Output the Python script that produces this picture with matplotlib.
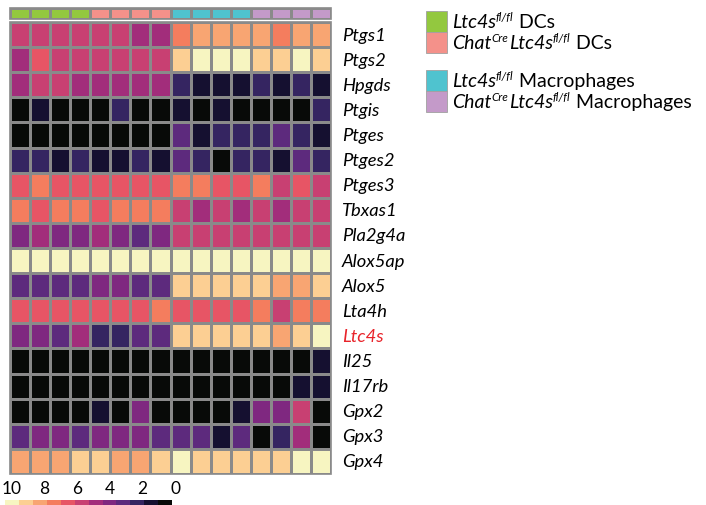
import numpy as np
import matplotlib
matplotlib.use("Agg")
import matplotlib.pyplot as plt
from matplotlib.colors import ListedColormap, BoundaryNorm
from matplotlib.patches import Rectangle

plt.rcParams['font.family'] = ['Lato', 'DejaVu Sans']

# genes (rows, top to bottom)
genes = ["Ptgs1", "Ptgs2", "Hpgds", "Ptgis", "Ptges", "Ptges2", "Ptges3", "Tbxas1",
         "Pla2g4a", "Alox5ap", "Alox5", "Lta4h", "Ltc4s", "Il25", "Il17rb",
         "Gpx2", "Gpx3", "Gpx4"]

# sample groups (4 samples each)
groups = ["Ltc4s fl/fl DCs", "ChatCre Ltc4s fl/fl DCs",
          "Ltc4s fl/fl Macrophages", "ChatCre Ltc4s fl/fl Macrophages"]
group_colors = ["#93c83f", "#f4918a", "#4fc3cf", "#c49ac9"]
samples_per_group = 4

# expression values (scale 0-10)
expr = np.array([
    [5.4, 5.4, 5.4, 5.4, 5.4, 5.4, 4.6, 4.6, 7.1, 7.9, 7.9, 7.9, 7.9, 7.1, 7.9, 7.9],
    [4.6, 6.2, 5.4, 5.4, 5.4, 5.4, 5.4, 5.4, 8.8, 9.6, 9.6, 9.6, 8.8, 8.8, 9.6, 8.8],
    [4.6, 5.4, 5.4, 4.6, 4.6, 4.6, 4.6, 4.6, 2.1, 1.2, 1.2, 1.2, 2.1, 1.2, 2.1, 1.2],
    [0.4, 1.2, 0.4, 0.4, 0.4, 2.1, 0.4, 0.4, 1.2, 0.4, 1.2, 0.4, 0.4, 0.4, 0.4, 2.1],
    [0.4, 0.4, 0.4, 0.4, 0.4, 0.4, 0.4, 0.4, 2.9, 1.2, 2.1, 2.1, 2.1, 2.9, 2.1, 1.2],
    [2.1, 2.1, 1.2, 2.1, 1.2, 1.2, 2.1, 1.2, 2.9, 2.1, 0.4, 2.1, 2.1, 1.2, 2.9, 2.1],
    [6.2, 7.1, 6.2, 6.2, 6.2, 6.2, 6.2, 6.2, 7.1, 7.1, 6.2, 6.2, 7.1, 5.4, 6.2, 5.4],
    [7.1, 6.2, 7.1, 7.1, 6.2, 7.1, 7.1, 7.1, 5.4, 4.6, 5.4, 4.6, 5.4, 4.6, 5.4, 5.4],
    [3.7, 4.6, 3.7, 3.7, 4.6, 3.7, 2.9, 3.7, 5.4, 5.4, 5.4, 5.4, 5.4, 5.4, 5.4, 5.4],
    [9.6, 9.6, 9.6, 9.6, 9.6, 9.6, 9.6, 9.6, 9.6, 9.6, 9.6, 9.6, 9.6, 9.6, 9.6, 9.6],
    [2.9, 2.9, 2.9, 2.9, 3.7, 3.7, 2.9, 2.9, 8.8, 8.8, 8.8, 8.8, 8.8, 7.9, 7.9, 8.8],
    [6.2, 6.2, 6.2, 6.2, 6.2, 6.2, 6.2, 7.1, 6.2, 6.2, 6.2, 6.2, 7.1, 5.4, 7.1, 7.1],
    [3.7, 3.7, 2.9, 4.6, 2.1, 2.1, 2.9, 2.9, 8.8, 8.8, 8.8, 8.8, 8.8, 7.9, 8.8, 9.6],
    [0.4, 0.4, 0.4, 0.4, 0.4, 0.4, 0.4, 0.4, 0.4, 0.4, 0.4, 0.4, 0.4, 0.4, 0.4, 1.2],
    [0.4, 0.4, 0.4, 0.4, 0.4, 0.4, 0.4, 0.4, 0.4, 0.4, 0.4, 0.4, 0.4, 0.4, 1.2, 1.2],
    [0.4, 0.4, 0.4, 0.4, 1.2, 0.4, 3.7, 0.4, 0.4, 0.4, 0.4, 1.2, 3.7, 3.7, 5.4, 0.4],
    [2.9, 3.7, 3.7, 2.9, 3.7, 3.7, 3.7, 2.9, 2.9, 2.9, 1.2, 2.9, 0.4, 2.1, 4.6, 0.4],
    [7.9, 7.9, 7.9, 8.8, 8.8, 7.9, 7.9, 8.8, 9.6, 8.8, 8.8, 8.8, 8.8, 8.8, 9.6, 9.6],
])

# discrete magma-like palette, low -> high
pal = ["#080a08", "#151030", "#352561", "#5d2a7d", "#7f2880", "#a22d7b",
       "#c84072", "#e75565", "#f47d5e", "#f8a572", "#fccf93", "#f7f5c1"]
cbar_ticks = [10, 8, 6, 4, 2, 0]

cmap = ListedColormap(pal)
norm = BoundaryNorm(np.linspace(0, 10, len(pal) + 1), cmap.N)

W, H = 706, 506
fig = plt.figure(figsize=(W / 100, H / 100), dpi=100)
renderer = fig.canvas.get_renderer()

def px_axes(x0, y0, x1, y1):
    return fig.add_axes([x0 / W, 1 - y1 / H, (x1 - x0) / W, (y1 - y0) / H])

grid_col = "#8a8a8a"
ncol = expr.shape[1]

# group annotation bar
ax_top = px_axes(10, 9, 331, 20)
grp_idx = np.repeat(np.arange(len(groups)), samples_per_group)[None, :]
ax_top.pcolormesh(grp_idx, cmap=ListedColormap(group_colors), vmin=-0.5,
                  vmax=len(groups) - 0.5, edgecolors=grid_col, linewidth=0.8)
ax_top.set_axis_off()
ax_top.add_patch(Rectangle((0, 0), ncol, 1, fill=False, ec=grid_col, lw=1.2, clip_on=False))

# heatmap
ax = px_axes(10, 23, 331, 475)
ax.pcolormesh(expr, cmap=cmap, norm=norm, edgecolors=grid_col, linewidth=0.8)
ax.set_xlim(0, ncol)
ax.set_ylim(len(genes), 0)
ax.set_axis_off()
ax.add_patch(Rectangle((0, 0), ncol, len(genes), fill=False, ec=grid_col, lw=1.2, clip_on=False))

for i, g in enumerate(genes):
    ax.text(ncol + 0.55, i + 0.5, g, ha="left", va="center", fontsize=13.2,
            style="italic", color="#e8232a" if g == "Ltc4s" else "black")

# legend: pieces are (text, italic, superscript)
leg_pieces = [
    [("Ltc4s", 1, 0), ("fl/fl", 1, 1), (" DCs", 0, 0)],
    [("Chat", 1, 0), ("Cre", 1, 1), ("Ltc4s", 1, 0), ("fl/fl", 1, 1), (" DCs", 0, 0)],
    [("Ltc4s", 1, 0), ("fl/fl", 1, 1), (" Macrophages", 0, 0)],
    [("Chat", 1, 0), ("Cre", 1, 1), ("Ltc4s", 1, 0), ("fl/fl", 1, 1), (" Macrophages", 0, 0)],
]
leg_box_top = [12, 33, 71, 92]
fs = 14
for pieces, col, y in zip(leg_pieces, group_colors, leg_box_top):
    fig.patches.append(Rectangle((426 / W, 1 - (y + 21) / H), 21 / W, 21 / H,
                                 transform=fig.transFigure, fc=col, ec="#a0a0a0", lw=0.6))
    x = 452
    base = y + 16
    for s, it, sup in pieces:
        yy = base - 7 if sup else base
        t = fig.text(x / W, 1 - yy / H, s, ha="left", va="baseline",
                     fontsize=fs * 0.6 if sup else fs,
                     style="italic" if it else "normal")
        x = t.get_window_extent(renderer).x1 + (0.5 if sup else 0)

# colour scale
ax_cb = px_axes(5, 501, 180, 508)
edges = np.linspace(10.43, 0.18, len(pal) + 1)
ax_cb.pcolormesh(edges, [0, 1], np.array([np.linspace(9.6, 0.4, len(pal))]), cmap=cmap, norm=norm)
ax_cb.set_xlim(10.43, -0.3)
ax_cb.set_ylim(0, 1)
ax_cb.set_axis_off()
for t in cbar_ticks:
    ax_cb.text(t, 1.5, str(t), ha="center", va="bottom", fontsize=12.5,
               transform=ax_cb.get_xaxis_transform())

fig.savefig("out.png", dpi=100)
